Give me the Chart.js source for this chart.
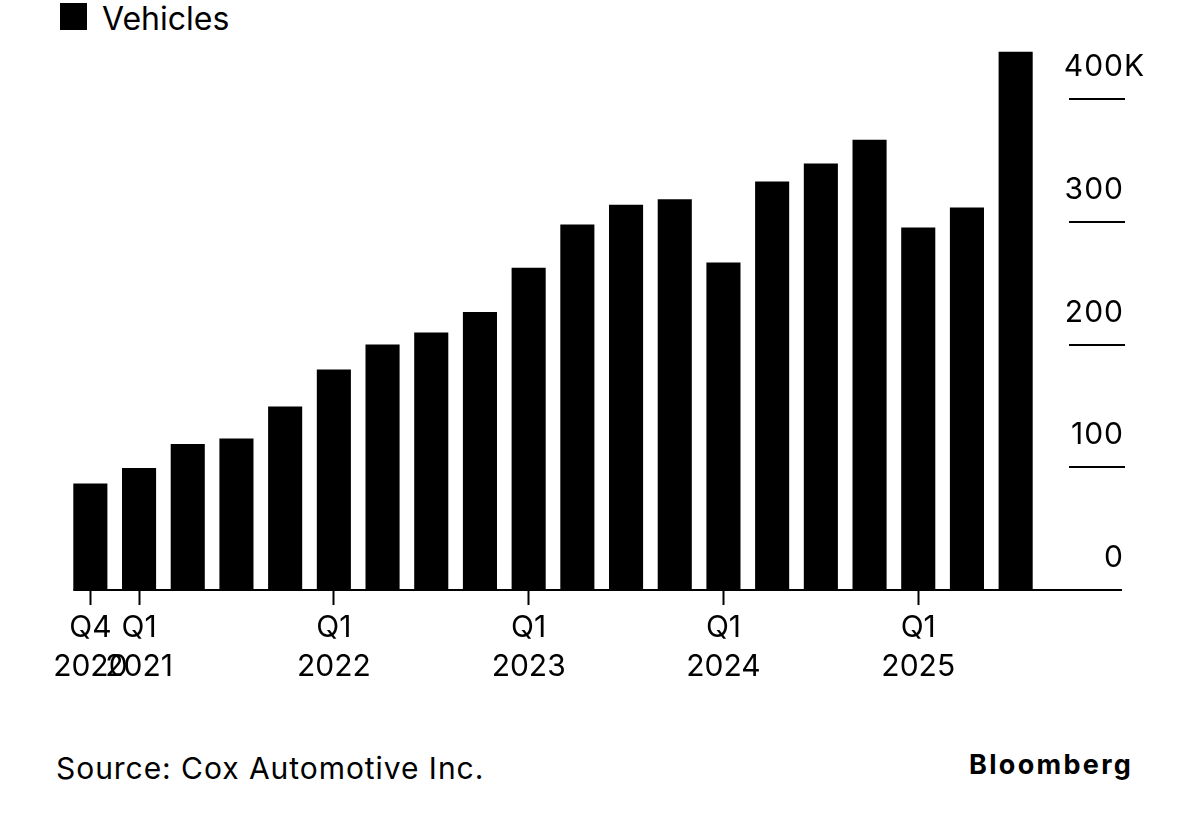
<!DOCTYPE html>
<html>
<head>
<meta charset="utf-8">
<script src="https://cdn.jsdelivr.net/npm/chart.js@4"></script>
<style>
  html, body { margin:0; padding:0; background:#fff; width:1200px; height:835px; overflow:hidden; }
  body { font-family: Inter, "Liberation Sans", Arial, sans-serif; color:#000; position:relative; }
  #wrap { position:absolute; left:0; top:0; width:1200px; height:700px; }
  #legend-box { position:absolute; left:60px; top:3px; width:27px; height:27px; background:#000; }
  #legend-text { position:absolute; left:102px; top:3px; font-size:32px; line-height:32px; white-space:nowrap; }
  #source { position:absolute; left:56px; top:753px; font-size:30px; line-height:30px; letter-spacing:0.95px; white-space:nowrap; }
  #brand { position:absolute; left:969px; top:751px; font-size:27px; line-height:27px; font-weight:700; letter-spacing:2.3px; white-space:nowrap; }
</style>
</head>
<body>
<div id="legend-box"></div>
<div id="legend-text"></div>
<div id="wrap"><canvas id="c" width="1200" height="700"></canvas></div>
<div id="source">Source: Cox Automotive Inc.</div>
<div id="brand">Bloomberg</div>
<script>
const seriesName = 'Vehicles';
const categories = ['Q4 2020','Q1 2021','Q2 2021','Q3 2021','Q4 2021','Q1 2022','Q2 2022','Q3 2022','Q4 2022','Q1 2023','Q2 2023','Q3 2023','Q4 2023','Q1 2024','Q2 2024','Q3 2024','Q4 2024','Q1 2025','Q2 2025','Q3 2025'];
const vehicles = [86.7, 99.5, 119.0, 123.4, 149.5, 179.7, 200.0, 209.8, 226.6, 262.5, 297.9, 313.9, 318.3, 266.9, 332.9, 347.6, 366.8, 295.4, 311.7, 438.6];
const xTickLabels = [['Q4','2020'],['Q1','2021'],'','','',['Q1','2022'],'','','',['Q1','2023'],'','','',['Q1','2024'],'','','',['Q1','2025'],'',''];
const yTickValues = [0, 100, 200, 300, 400];
const yTickLabels = ['0', '100', '200', '300', '400K'];

document.getElementById('legend-text').textContent = seriesName;

const FONT = 'Inter, "Liberation Sans", Arial, sans-serif';

const rightAxisPlugin = {
  id: 'rightAxis',
  afterDraw(chart) {
    const { ctx, chartArea, scales: { y } } = chart;
    const meta = chart.getDatasetMeta(0);
    const first = meta.data[0];
    const x0 = first.x - first.width / 2;
    const base = y.getPixelForValue(0);
    ctx.save();
    ctx.fillStyle = '#000';
    // baseline
    ctx.fillRect(x0, Math.round(base) - 1, chartArea.right + 82 - x0, 2);
    // short tick marks and labels
    const tickStart = chartArea.right + 29;
    const tickEnd = chartArea.right + 85;
    const labelRight = chartArea.right + 84;
    ctx.font = '30px ' + FONT;
    if ('letterSpacing' in ctx) ctx.letterSpacing = '1px';
    ctx.textBaseline = 'alphabetic';
    ctx.textAlign = 'left';
    yTickValues.forEach((v, i) => {
      const py = y.getPixelForValue(v);
      if (v !== 0) ctx.fillRect(tickStart, Math.round(py) - 1, tickEnd - tickStart, 2);
      const label = yTickLabels[i];
      const num = label.replace(/[^0-9.]+$/, '');
      const w = ctx.measureText(num).width;
      ctx.fillText(label, labelRight - w, py - 23);
    });
    ctx.restore();
  }
};

new Chart(document.getElementById('c'), {
  type: 'bar',
  data: {
    labels: categories,
    datasets: [{
      label: seriesName,
      data: vehicles,
      backgroundColor: '#000',
      borderWidth: 0,
      barPercentage: 0.7,
      categoryPercentage: 1.0
    }]
  },
  options: {
    responsive: false,
    animation: false,
    devicePixelRatio: 1,
    layout: { padding: { left: 66, right: 160, top: 50, bottom: 0 } },
    plugins: { legend: { display: false }, tooltip: { enabled: false } },
    scales: {
      x: {
        type: 'category',
        offset: true,
        border: { display: false },
        grid: {
          display: true,
          drawOnChartArea: false,
          drawTicks: true,
          offset: false,
          tickLength: 15,
          tickWidth: 2,
          tickColor: (c) => (xTickLabels[c.index] ? '#000' : 'rgba(0,0,0,0)')
        },
        ticks: {
          autoSkip: false,
          maxRotation: 0,
          minRotation: 0,
          padding: 3,
          color: '#000',
          font: { family: FONT, size: 30, lineHeight: 1.3 },
          callback: (val, i) => xTickLabels[i]
        },
        afterFit: (s) => { s.height = 110; }
      },
      y: {
        display: false,
        min: 0,
        max: 440
      }
    }
  },
  plugins: [rightAxisPlugin]
});
</script>
</body>
</html>
